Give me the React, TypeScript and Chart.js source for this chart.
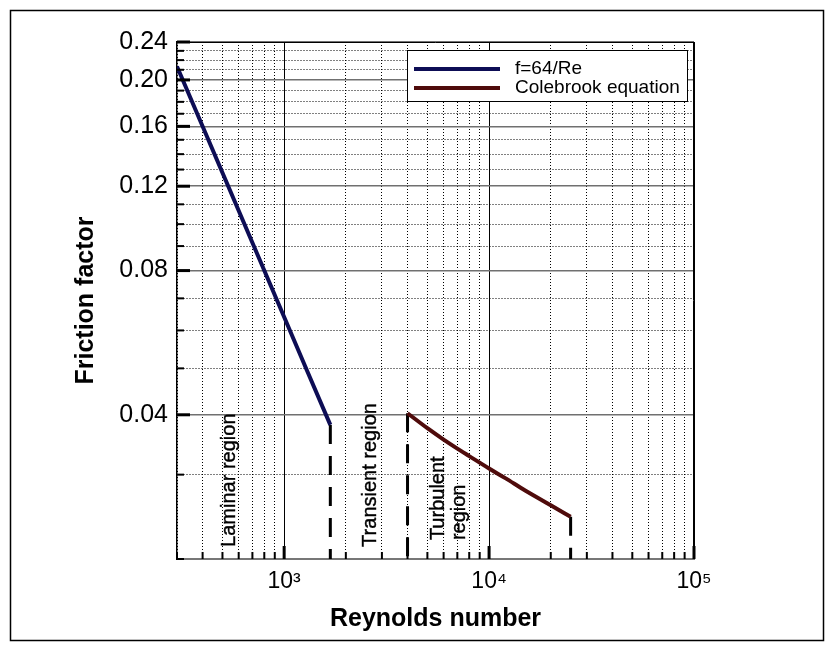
import React, { useEffect, useRef } from "react";
import { Chart, registerables } from "chart.js";

Chart.register(...registerables);

// ---- data ----
const RE_LAMINAR = [300, 500, 800, 1000, 1300, 1680];
const F_LAMINAR = [0.2133, 0.128, 0.08, 0.064, 0.0492, 0.0381];

const RE_TURBULENT = [4000, 5000, 6000, 7000, 8000, 10000, 12000, 15000, 20000, 25000];
const F_TURBULENT = [0.0403, 0.0375, 0.0355, 0.034, 0.0328, 0.0309, 0.0295, 0.0278, 0.0259, 0.0245];

const DIVIDER_RE = [1680, 4000, 25000];
const DIVIDER_TOP = [0.0381, 0.0403, 0.0245];

const SERIES_LABELS = ["f=64/Re", "Colebrook equation"];
const SERIES_COLORS = ["#0d0d55", "#4f0b0b"];

const X_MIN = 300;
const X_MAX = 100000;
const Y_MIN = 0.02;
const Y_MAX = 0.24;

const X_MAJOR = [1000, 10000, 100000];
const X_TICK_LABELS = ["10\u00B3", "10\u2074", "10\u2075"];
const X_MINOR = [300, 400, 500, 600, 700, 800, 900, 2000, 3000, 4000, 5000, 6000, 7000, 8000, 9000, 20000, 30000, 40000, 50000, 60000, 70000, 80000, 90000];

const Y_MAJOR = [0.04, 0.08, 0.12, 0.16, 0.2, 0.24];
const Y_TICK_LABELS = ["0.04", "0.08", "0.12", "0.16", "0.20", "0.24"];
const Y_MINOR = [0.02, 0.03, 0.05, 0.06, 0.07, 0.09, 0.1, 0.11, 0.13, 0.14, 0.15, 0.17, 0.18, 0.19, 0.21, 0.22, 0.23];

const REGION_LABELS = ["Laminar region", "Transient region", "Turbulent", "region"];
const REGION_RE = [540, 2650, 5675, 7145];
const REGION_F = [0.0212, 0.0212, 0.0219, 0.0219];

const X_TITLE = "Reynolds number";
const Y_TITLE = "Friction factor";

const FONT = "'Liberation Sans', Arial, Helvetica, sans-serif";

const majorIndex = (v: number, list: number[]) =>
  list.findIndex((m) => Math.abs(v - m) / m < 1e-6);

export default function App() {
  const ref = useRef<HTMLCanvasElement>(null);

  useEffect(() => {
    const canvas = ref.current;
    if (!canvas) return;

    const xTicks = [...X_MINOR, ...X_MAJOR].sort((a, b) => a - b);
    const yTicks = [...Y_MINOR, ...Y_MAJOR].sort((a, b) => a - b);

    const datasets: any[] = [
      {
        label: SERIES_LABELS[0],
        data: RE_LAMINAR.map((x, i) => ({ x, y: F_LAMINAR[i] })),
        borderColor: SERIES_COLORS[0],
        borderWidth: 4,
        pointRadius: 0,
        tension: 0,
      },
      {
        label: SERIES_LABELS[1],
        data: RE_TURBULENT.map((x, i) => ({ x, y: F_TURBULENT[i] })),
        borderColor: SERIES_COLORS[1],
        borderWidth: 4,
        pointRadius: 0,
        cubicInterpolationMode: "monotone",
      },
      ...DIVIDER_RE.map((x, i) => ({
        label: "",
        data: [
          { x, y: DIVIDER_TOP[i] },
          { x, y: Y_MIN },
        ],
        borderColor: "#000",
        borderWidth: 3,
        borderDash: [19, 12],
        pointRadius: 0,
      })),
    ];

    const decor = {
      id: "decor",
      afterDraw(chart: any) {
        const { ctx, chartArea: ca } = chart;
        const xs = chart.scales.x;
        const ys = chart.scales.y;
        ctx.save();

        // top & right plot borders
        ctx.strokeStyle = "#000";
        ctx.lineWidth = 1;
        ctx.setLineDash([]);
        ctx.beginPath();
        ctx.moveTo(ca.left, ca.top + 0.5);
        ctx.lineTo(ca.right, ca.top + 0.5);
        ctx.moveTo(ca.right - 0.5, ca.top);
        ctx.lineTo(ca.right - 0.5, ca.bottom);
        ctx.stroke();

        // inward tick marks
        for (const t of xs.ticks) {
          const px = xs.getPixelForValue(t.value);
          const maj = majorIndex(t.value, X_MAJOR) >= 0;
          ctx.lineWidth = maj ? 3 : 2;
          ctx.beginPath();
          ctx.moveTo(px, ca.bottom);
          ctx.lineTo(px, ca.bottom - (maj ? 13 : 7));
          ctx.stroke();
        }
        for (const t of ys.ticks) {
          const py = ys.getPixelForValue(t.value);
          const maj = majorIndex(t.value, Y_MAJOR) >= 0;
          ctx.lineWidth = maj ? 3 : 2;
          ctx.beginPath();
          ctx.moveTo(ca.left, py);
          ctx.lineTo(ca.left + (maj ? 13 : 7), py);
          ctx.stroke();
        }

        // region annotations (rotated)
        ctx.fillStyle = "#000";
        ctx.strokeStyle = "#000";
        ctx.lineWidth = 0.4;
        ctx.font = `20px ${FONT}`;
        ctx.textAlign = "left";
        ctx.textBaseline = "middle";
        REGION_LABELS.forEach((txt, i) => {
          const px = xs.getPixelForValue(REGION_RE[i]);
          const py = ys.getPixelForValue(REGION_F[i]);
          ctx.save();
          ctx.translate(px, py);
          ctx.rotate(-Math.PI / 2);
          ctx.fillText(txt, 0, 0);
          ctx.strokeText(txt, 0, 0);
          ctx.restore();
        });

        // legend box
        const bw = 280;
        const bh = 51;
        const bx = ca.right - 7 - bw;
        const by = ca.top + 8;
        ctx.fillStyle = "#fff";
        ctx.fillRect(bx, by, bw, bh);
        ctx.strokeStyle = "#000";
        ctx.lineWidth = 1;
        ctx.strokeRect(bx + 0.5, by + 0.5, bw, bh);
        ctx.font = `19px ${FONT}`;
        ctx.textAlign = "left";
        ctx.textBaseline = "middle";
        [0, 1].forEach((i) => {
          const ds = chart.data.datasets[i];
          const ly = by + 19 + i * 19;
          ctx.strokeStyle = ds.borderColor;
          ctx.lineWidth = 4;
          ctx.beginPath();
          ctx.moveTo(bx + 7, ly);
          ctx.lineTo(bx + 93, ly);
          ctx.stroke();
          ctx.fillStyle = "#000";
          ctx.fillText(ds.label, bx + 108, ly);
        });

        // outer frame
        ctx.strokeStyle = "#000";
        ctx.lineWidth = 1.5;
        ctx.strokeRect(10.5, 10.5, 813, 630);

        ctx.restore();
      },
    };

    const chart = new Chart(canvas, {
      type: "line",
      data: { datasets },
      plugins: [decor],
      options: {
        responsive: false,
        animation: false,
        layout: { padding: { left: 0, right: 139, top: 42, bottom: 14 } },
        plugins: {
          legend: { display: false },
          tooltip: { enabled: false },
        },
        scales: {
          x: {
            type: "logarithmic",
            min: X_MIN,
            max: X_MAX,
            afterBuildTicks: (s: any) => {
              s.ticks = xTicks.map((v) => ({ value: v }));
            },
            afterFit: (s: any) => {
              s.height = 75;
            },
            ticks: {
              autoSkip: false,
              maxRotation: 0,
              minRotation: 0,
              padding: 9,
              color: "#000",
              font: { family: FONT, size: 23 },
              callback: (v: any) => {
                const i = majorIndex(Number(v), X_MAJOR);
                return i >= 0 ? X_TICK_LABELS[i] : "";
              },
            },
            grid: {
              drawTicks: false,
              color: "#000",
              lineWidth: 1,
            },
            border: {
              color: "#777",
              width: 2,
              dash: (c: any) =>
                c.tick && majorIndex(c.tick.value, X_MAJOR) < 0 ? [1, 2] : [],
            },
            title: {
              display: true,
              text: X_TITLE,
              color: "#000",
              font: { family: FONT, size: 25, weight: "bold" },
              padding: { top: 0, bottom: 0 },
            },
          },
          y: {
            type: "logarithmic",
            min: Y_MIN,
            max: Y_MAX,
            afterBuildTicks: (s: any) => {
              s.ticks = yTicks.map((v) => ({ value: v }));
            },
            afterFit: (s: any) => {
              s.width = 177;
            },
            ticks: {
              autoSkip: false,
              padding: 9,
              color: "#000",
              font: { family: FONT, size: 25 },
              callback: (v: any) => {
                const i = majorIndex(Number(v), Y_MAJOR);
                return i >= 0 ? Y_TICK_LABELS[i] : "";
              },
            },
            grid: {
              drawTicks: false,
              color: (c: any) =>
                c.tick && majorIndex(c.tick.value, Y_MAJOR) >= 0 ? "#707070" : "#000",
              lineWidth: (c: any) =>
                c.tick && majorIndex(c.tick.value, Y_MAJOR) >= 0 ? 1.5 : 1,
            },
            border: {
              color: "#000",
              width: 1.5,
              dash: (c: any) =>
                c.tick && majorIndex(c.tick.value, Y_MAJOR) < 0 ? [1, 2] : [],
            },
            title: {
              display: true,
              text: Y_TITLE,
              color: "#000",
              font: { family: FONT, size: 25, weight: "bold" },
              padding: { top: 71, bottom: 0 },
            },
          },
        },
      } as any,
    });

    return () => chart.destroy();
  }, []);

  return (
    <div
      style={{
        position: "absolute",
        left: 0,
        top: 0,
        width: 833,
        height: 648,
        background: "#fff",
      }}
    >
      <canvas ref={ref} width={833} height={648} />
    </div>
  );
}
